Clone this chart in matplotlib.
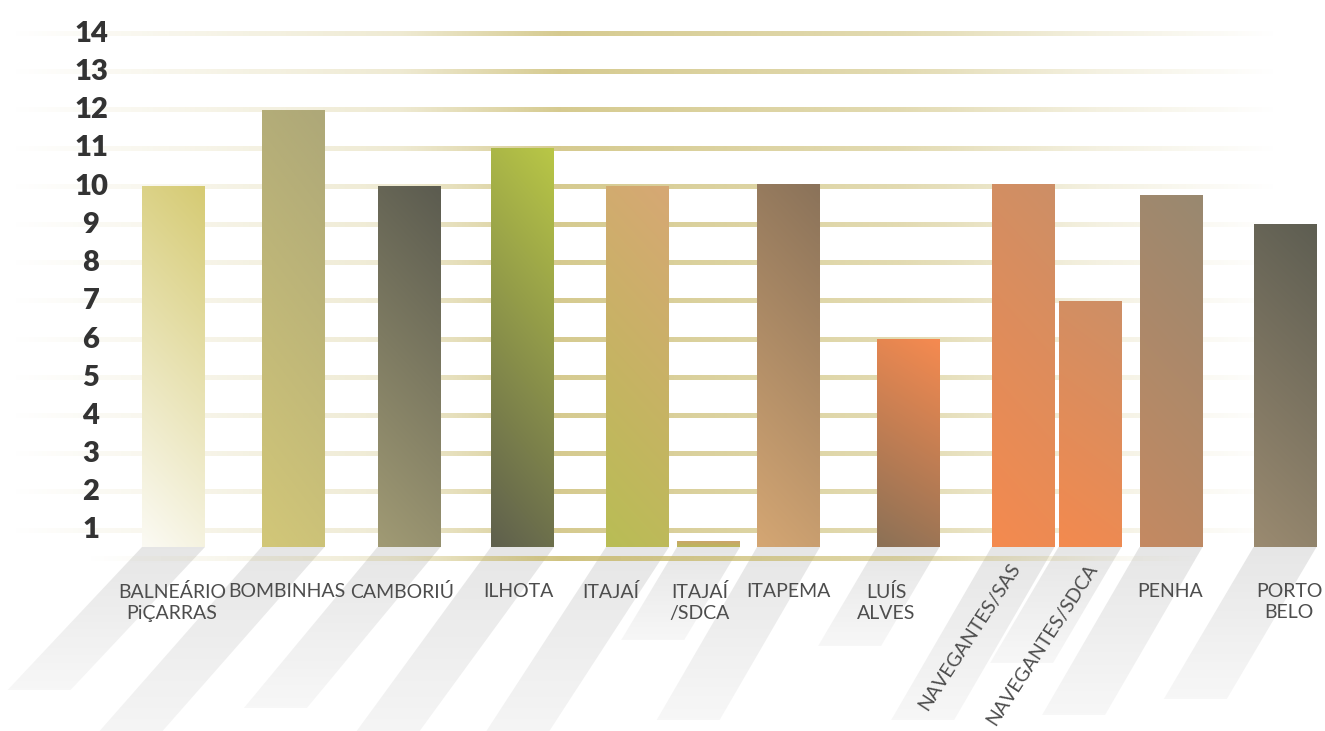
import numpy as np
import matplotlib.pyplot as plt
from matplotlib.colors import to_rgb
from matplotlib.patches import Polygon

# ---------------------------------------------------------------------
# Data
# ---------------------------------------------------------------------
categories = [
    "BALNEÁRIO\nPiÇARRAS", "BOMBINHAS", "CAMBORIÚ", "ILHOTA", "ITAJAÍ",
    "ITAJAÍ\n/SDCA", "ITAPEMA", "LUÍS\nALVES", "NAVEGANTES/SAS",
    "NAVEGANTES/SDCA", "PENHA", "PORTO\nBELO",
]
values = [10, 12, 10, 11, 10, 0.72, 10.05, 6, 10.05, 7, 9.78, 9]
y_ticks = list(range(1, 15))

top_colors = ["#d6cb74", "#aea878", "#5c5c50", "#b8c646", "#d6a874", "#cda36c",
              "#8b735a", "#f58a50", "#cd8f66", "#cd8f66", "#998870", "#5e5e52"]
bottom_colors = ["#fbfaf3", "#d2c778", "#a09a74", "#5f604d", "#b9bd55", "#b8b95a",
                 "#d4a673", "#8c7156", "#f48a4f", "#f38a4f", "#c48a62", "#9a8a70"]

# ---------------------------------------------------------------------
# Layout (x axis is in pixel units, y axis in value units)
# ---------------------------------------------------------------------
W, H = 1325, 731
Y0, PX_PER_UNIT = 568.7, 38.2      # pixel row of value 0, pixels per unit


def val(py):
    """pixel row -> value"""
    return (Y0 - py) / PX_PER_UNIT


BASE = val(547)                     # floor where the bars start
bar_pos = [173.5, 293, 409, 522.5, 637.5, 708.5, 788.5, 908, 1023, 1090, 1171, 1285]
bar_width = 63
label_pos = [172, 287, 402, 518, 611, 700, 788, 886, 1016, 1093, 1170, 1289]
rotated = [False] * 8 + [True, True] + [False, False]
shadow_end = [690, 760, 708, 760, 760, 640, 720, 646, 720, 663, 715, 699]
shadow_slant = [0.94, 0.88, 0.83, 0.73, 0.65, 0.6, 0.58, 0.59, 0.58, 0.59, 0.58, 0.59]

GOLD = np.array(to_rgb("#c8b96a"))

plt.rcParams["font.family"] = ["Lato", "DejaVu Sans"]

fig = plt.figure(figsize=(W / 100, H / 100), dpi=100)
ax = fig.add_axes([0, 0, 1, 1])
ax.set_xlim(0, W)
ax.set_ylim(val(H), val(0))
ax.axis("off")


def grid_strip(y, x0, x1, peak, fade):
    """Horizontal golden line whose strength fades towards both ends."""
    xs = np.linspace(x0, x1, 400)
    a = np.interp(xs, [x0, x0 + 90, 400, 560, 900, 1100, x1],
                  [0.0, 0.08, 0.3, peak, peak * 0.7, fade, 0.0])
    img = np.ones((1, len(xs), 4))
    img[0, :, :3] = GOLD
    img[0, :, 3] = a
    h = 4.2 / PX_PER_UNIT
    ax.imshow(img, extent=[x0, x1, y - h / 2, y + h / 2], aspect="auto",
              interpolation="bilinear", zorder=2)


# shadows
for x, yb, s in zip(bar_pos, shadow_end, shadow_slant):
    shift = s * (yb - 547)
    xl, xr = x - bar_width / 2, x + bar_width / 2
    poly = Polygon([[xl, BASE], [xr, BASE], [xr - shift, val(yb)], [xl - shift, val(yb)]],
                   closed=True, facecolor="none", edgecolor="none")
    ax.add_patch(poly)
    grad = np.ones((60, 1, 4))
    grad[:, 0, :3] = 0.55
    grad[:, 0, 3] = np.linspace(0.22, 0.07, 60)
    im = ax.imshow(grad, extent=[xl - shift - 5, xr + 5, val(yb), BASE],
                   aspect="auto", interpolation="bilinear", zorder=1)
    im.set_clip_path(poly)

# gridlines
for t in y_ticks:
    grid_strip(t, 10, 1278, 0.75, 0.2)
grid_strip(val(558.5), 85, 1200, 0.85, 0.12)

# bars with gradient fill
bars = ax.bar(bar_pos, [v - BASE for v in values], bottom=BASE, width=bar_width,
              color="none", zorder=3)
for patch, c_top, c_bot in zip(bars.patches, top_colors, bottom_colors):
    x0, y0 = patch.get_x(), patch.get_y()
    w, h = patch.get_width(), patch.get_height()
    n = 80
    v = np.linspace(0, 1, n)[:, None]          # 0 top .. 1 bottom
    u = np.linspace(0, 1, 12)[None, :]         # 0 left .. 1 right
    t = np.clip(0.85 * v + 0.15 * (1 - u), 0, 1)
    ct, cb = np.array(to_rgb(c_top)), np.array(to_rgb(c_bot))
    img = ct[None, None, :] * (1 - t[..., None]) + cb[None, None, :] * t[..., None]
    ax.imshow(img, extent=[x0, x0 + w, y0, y0 + h], aspect="auto",
              interpolation="bilinear", zorder=3)

# y labels
for t in y_ticks:
    ax.text(91, t, str(t), ha="center", va="center", fontsize=21,
            fontweight="heavy", color="#333333", zorder=4)

# category labels
for name, lx, rot in zip(categories, label_pos, rotated):
    if rot:
        ax.text(lx, val(565), name, ha="right", va="center", rotation=57,
                rotation_mode="anchor", fontsize=14, fontweight="normal",
                color="#4d4d4d", zorder=4)
    else:
        ax.text(lx, val(583), name, ha="center", va="top", fontsize=14,
                fontweight="normal", color="#4d4d4d", linespacing=1.3,
                multialignment="center", zorder=4)

fig.savefig("out.png", dpi=100)
